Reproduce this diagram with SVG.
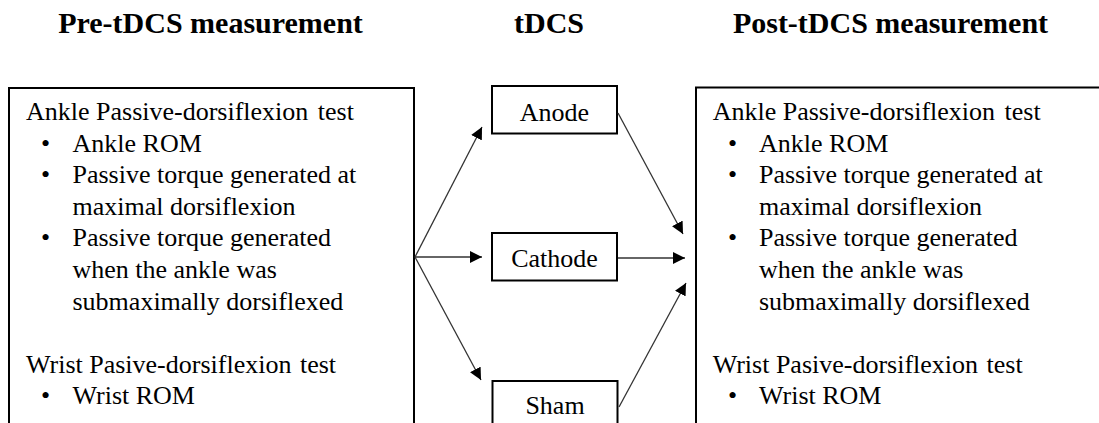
<svg xmlns="http://www.w3.org/2000/svg" width="1099" height="423" viewBox="0 0 1099 423">
<defs>
<style>
.title{font-family:"Liberation Serif","Times New Roman",serif;font-weight:bold;font-size:30px;fill:#000;text-anchor:middle}
.t{font-family:"Liberation Serif","Times New Roman",serif;font-size:26px;fill:#000}
.mid{text-anchor:middle}
.box{fill:#fff;stroke:#000;stroke-width:2}
.conn{stroke:#333;stroke-width:1.3;fill:none;marker-end:url(#ah)}
</style>
<marker id="ah" markerUnits="userSpaceOnUse" markerWidth="13" markerHeight="12" refX="12" refY="6" orient="auto">
<path d="M0,0 L12,6 L0,12 z" fill="#000"/>
</marker>
</defs>
<rect width="1099" height="423" fill="#fff"/>
<g id="titles">
<text class="title" x="210.5" y="33">Pre-tDCS measurement</text>
<text class="title" x="549" y="33">tDCS</text>
<text class="title" x="890.5" y="33">Post-tDCS measurement</text>
</g>
<g id="pre">
<rect class="box" x="9" y="88" width="405" height="360"/>
<text class="t" x="26" y="120">Ankle Passive-dorsiflexion <tspan dx="3">test</tspan></text>
<text class="t" x="41" y="151.6">•</text>
<text class="t" x="72.5" y="151.6">Ankle ROM</text>
<text class="t" x="41" y="183.2">•</text>
<text class="t" x="72.5" y="183.2">Passive torque generated at</text>
<text class="t" x="72.5" y="214.8">maximal dorsiflexion</text>
<text class="t" x="41" y="246.4">•</text>
<text class="t" x="72.5" y="246.4">Passive torque generated</text>
<text class="t" x="72.5" y="278">when the ankle was</text>
<text class="t" x="72.5" y="309.6">submaximally dorsiflexed</text>
<text class="t" x="26" y="372.8">Wrist Pasive-dorsiflexion <tspan dx="2">test</tspan></text>
<text class="t" x="41" y="404.4">•</text>
<text class="t" x="72.5" y="404.4">Wrist ROM</text>
</g>
<g id="anode">
<rect class="box" x="492" y="86" width="125" height="47.5"/>
<text class="t mid" x="554.5" y="121">Anode</text>
</g>
<g id="cathode">
<rect class="box" x="492" y="233" width="125" height="47.5"/>
<text class="t mid" x="554.5" y="267">Cathode</text>
</g>
<g id="sham">
<rect class="box" x="492.5" y="381" width="125" height="60"/>
<text class="t mid" x="555" y="414">Sham</text>
</g>
<g id="post">
<rect class="box" x="696" y="87.5" width="420" height="360"/>
<text class="t" x="712.7" y="120">Ankle Passive-dorsiflexion <tspan dx="3">test</tspan></text>
<text class="t" x="728" y="151.6">•</text>
<text class="t" x="759" y="151.6">Ankle ROM</text>
<text class="t" x="728" y="183.2">•</text>
<text class="t" x="759" y="183.2">Passive torque generated at</text>
<text class="t" x="759" y="214.8">maximal dorsiflexion</text>
<text class="t" x="728" y="246.4">•</text>
<text class="t" x="759" y="246.4">Passive torque generated</text>
<text class="t" x="759" y="278">when the ankle was</text>
<text class="t" x="759" y="309.6">submaximally dorsiflexed</text>
<text class="t" x="712.7" y="372.8">Wrist Pasive-dorsiflexion <tspan dx="2">test</tspan></text>
<text class="t" x="728" y="404.4">•</text>
<text class="t" x="759" y="404.4">Wrist ROM</text>
</g>
<g id="connectors">
<line class="conn" x1="415" y1="257" x2="482" y2="127"/>
<line class="conn" x1="415" y1="257" x2="482" y2="257"/>
<line class="conn" x1="415" y1="257" x2="481" y2="380"/>
<line class="conn" x1="618" y1="113" x2="683" y2="234"/>
<line class="conn" x1="618" y1="258" x2="685" y2="258"/>
<line class="conn" x1="619" y1="407" x2="686" y2="283"/>
</g>
</svg>
